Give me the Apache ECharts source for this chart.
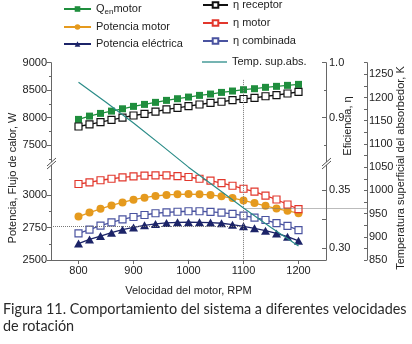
<!DOCTYPE html>
<html>
<head>
<meta charset="utf-8">
<script src="https://cdn.jsdelivr.net/npm/echarts@6/dist/echarts.min.js"></script>
<style>
html, body { margin: 0; padding: 0; background: #fff; }
#chart { width: 412px; height: 344px; }
</style>
</head>
<body>
<div id="chart"></div>
<script>
// datos
var rpm = [800, 820, 840, 860, 880, 900, 920, 940, 960, 980, 1000, 1020, 1040, 1060, 1080, 1100, 1120, 1140, 1160, 1180, 1200];
var qMotor = [7969, 8029, 8078, 8120, 8162, 8206, 8242, 8279, 8315, 8345, 8375, 8406, 8430, 8460, 8485, 8509, 8527, 8552, 8570, 8588, 8606];
var etaReceptor = [0.884, 0.888, 0.892, 0.896, 0.900, 0.904, 0.907, 0.911, 0.915, 0.918, 0.921, 0.924, 0.927, 0.929, 0.932, 0.934, 0.936, 0.939, 0.941, 0.944, 0.947];
var potMotor = [2836, 2867, 2896, 2922, 2945, 2966, 2982, 2995, 3003, 3008, 3010, 3008, 3003, 2992, 2979, 2961, 2940, 2919, 2898, 2880, 2862];
var potElec = [2627, 2659, 2685, 2711, 2734, 2752, 2768, 2779, 2787, 2791, 2792, 2791, 2789, 2784, 2773, 2760, 2745, 2727, 2705, 2680, 2648];
var etaMotor = [0.3552, 0.3566, 0.3584, 0.3597, 0.3609, 0.3618, 0.3623, 0.3626, 0.3626, 0.3620, 0.3612, 0.3597, 0.3580, 0.3560, 0.3537, 0.3511, 0.3486, 0.3453, 0.3419, 0.3376, 0.3337];
var etaComb = [0.3129, 0.3160, 0.3194, 0.3223, 0.3249, 0.3269, 0.3286, 0.3301, 0.3309, 0.3314, 0.3318, 0.3318, 0.3312, 0.3306, 0.3295, 0.3280, 0.3263, 0.3243, 0.3217, 0.3192, 0.3157];
var rpmTemp = [800, 850, 900, 950, 1000, 1050, 1100, 1150, 1200];
var tempAbs = [1233, 1190, 1145, 1098, 1050, 1006, 962, 920, 880];

var xTicks = [800, 900, 1000, 1100, 1200];
var qTicks = [7500, 8000, 8500, 9000];
var potTicks = [2500, 2750, 3000];
var etaHiTicks = [0.9, 1.0];
var etaLoTicks = [0.30, 0.35];
var tempTicks = [850, 900, 950, 1000, 1050, 1100, 1150, 1200, 1250];
var tempMinor = [850, 875, 900, 925, 950, 975, 1000, 1025, 1050, 1075, 1100, 1125, 1150, 1175, 1200, 1225, 1250, 1275];

function pairs(xs, ys) {
    var out = [];
    for (var i = 0; i < xs.length; i++) {
        out.push([xs[i], ys[i]]);
    }
    return out;
}
function plain(v) { return String(v); }

var axisColor = '#666';
var font = 'Liberation Sans, Arial, sans-serif';
var lbl = { color: '#222', fontSize: 11, fontFamily: font };

var chart = echarts.init(document.getElementById('chart'), null, { renderer: 'canvas' });

var option = {
    animation: false,
    title: {
        text: 'Figura 11. Comportamiento del sistema a diferentes velocidades\nde rotación',
        left: 3,
        top: 301,
        padding: 0,
        textStyle: { fontFamily: 'Lato', fontSize: 14.4, fontWeight: 'normal', color: '#2a2a2a', lineHeight: 17 }
    },
    legend: [
        {
            data: ['Qenmotor', 'Potencia motor', 'Potencia eléctrica'],
            orient: 'vertical', left: 63, top: 3, padding: 0,
            itemWidth: 27, itemHeight: 7, itemGap: 5,
            formatter: function (name) {
                if (name === 'Qenmotor') return '{a|Q}{b|en}{a|motor}';
                return name;
            },
            textStyle: {
                color: '#222', fontSize: 11, fontFamily: font, lineHeight: 12,
                rich: {
                    a: { fontSize: 11, fontFamily: font, color: '#222' },
                    b: { fontSize: 8, fontFamily: font, color: '#222', padding: [6, 0, 0, 0] }
                }
            }
        },
        {
            data: ['η receptor', 'η motor', 'η combinada'],
            orient: 'vertical', left: 202, top: -1, padding: 0,
            itemWidth: 25, itemHeight: 7, itemGap: 6,
            textStyle: { color: '#222', fontSize: 11, fontFamily: font, lineHeight: 12 }
        },
        {
            data: [{ name: 'Temp. sup.abs.', icon: 'rect' }],
            orient: 'vertical', left: 202, top: 56, padding: 0,
            itemWidth: 25, itemHeight: 1.3,
            textStyle: { color: '#222', fontSize: 11, fontFamily: font, lineHeight: 12 }
        }
    ],
    grid: [
        { left: 51, right: 86, top: 62.7, height: 110, outerBoundsMode: 'none' },
        { left: 51, right: 86, top: 163, height: 97, outerBoundsMode: 'none' },
        { left: 51, right: 45, top: 62.7, height: 197.3, outerBoundsMode: 'none' },
        { left: 51, right: 86, top: 96, height: 164, outerBoundsMode: 'none' },
        { left: 51, right: 86, top: 62.7, height: 126.6, outerBoundsMode: 'none' },
        { left: 51, right: 45, top: 76, height: 184, outerBoundsMode: 'none' }
    ],
    xAxis: [
        { gridIndex: 0, type: 'value', min: 750, max: 1250, show: false },
        {
            gridIndex: 1, type: 'value', min: 750, max: 1250,
            name: 'Velocidad del motor, RPM', nameLocation: 'middle', nameGap: 25,
            nameTextStyle: lbl,
            axisLine: { lineStyle: { color: axisColor } },
            axisTick: { customValues: xTicks, length: 4, lineStyle: { color: axisColor } },
            minorTick: { show: false },
            axisLabel: { customValues: xTicks, margin: 5, color: '#222', fontSize: 11, fontFamily: font, formatter: plain },
            splitLine: { show: false }
        },
        { gridIndex: 2, type: 'value', min: 750, max: 1324.5, show: false },
        { gridIndex: 3, type: 'value', min: 0, max: 1, show: false },
        { gridIndex: 4, type: 'value', min: 0, max: 1, show: false },
        { gridIndex: 5, type: 'value', min: 0, max: 1, show: false }
    ],
    yAxis: [
        {
            gridIndex: 0, type: 'value', position: 'left', min: 7000, max: 9000, interval: 500,
            axisLine: { show: true, lineStyle: { color: axisColor } },
            axisTick: { show: true, customValues: qTicks, length: 4, lineStyle: { color: axisColor } },
            minorTick: { show: true, splitNumber: 2, length: 2, lineStyle: { color: axisColor } },
            axisLabel: { customValues: qTicks, margin: 4, color: '#222', fontSize: 11, fontFamily: font, formatter: plain },
            splitLine: { show: false }
        },
        {
            gridIndex: 0, type: 'value', position: 'right', min: 0.8, max: 1.0, interval: 0.1,
            axisLine: { show: true, lineStyle: { color: axisColor } },
            axisTick: { show: true, inside: true, customValues: etaHiTicks, length: 4, lineStyle: { color: axisColor } },
            minorTick: { show: true, splitNumber: 2, length: 2, lineStyle: { color: axisColor } },
            axisLabel: {
                customValues: etaHiTicks, margin: 3, color: '#222', fontSize: 11, fontFamily: font,
                formatter: function (v) { return v.toFixed(1); }
            },
            splitLine: { show: false }
        },
        {
            gridIndex: 1, type: 'value', position: 'left', min: 2500, max: 3250, interval: 250,
            axisLine: { show: true, lineStyle: { color: axisColor } },
            axisTick: { show: true, customValues: potTicks, length: 4, lineStyle: { color: axisColor } },
            minorTick: { show: true, splitNumber: 2, length: 2, lineStyle: { color: axisColor } },
            axisLabel: { customValues: potTicks, margin: 4, color: '#222', fontSize: 11, fontFamily: font, formatter: plain },
            splitLine: { show: false }
        },
        {
            gridIndex: 1, type: 'value', position: 'right', min: 0.29, max: 0.3732,
            axisLine: { show: true, lineStyle: { color: axisColor } },
            axisTick: { show: true, inside: true, customValues: [0.30, 0.325, 0.35], length: 4, lineStyle: { color: axisColor } },
            axisLabel: {
                customValues: etaLoTicks, margin: 3, color: '#222', fontSize: 11, fontFamily: font,
                formatter: function (v) { return v.toFixed(2); }
            },
            splitLine: { show: false }
        },
        {
            gridIndex: 2, type: 'value', position: 'right', min: 850, max: 1275,
            axisLine: { show: true, lineStyle: { color: axisColor } },
            axisTick: { show: true, inside: true, customValues: tempMinor, length: 3, lineStyle: { color: axisColor } },
            axisLabel: { customValues: tempTicks, margin: 2, color: '#222', fontSize: 11, fontFamily: font, formatter: plain },
            splitLine: { show: false }
        },
        {
            gridIndex: 3, type: 'value', position: 'left', min: 0, max: 1,
            name: 'Potencia, Flujo de calor, W', nameLocation: 'middle', nameGap: 33, nameTextStyle: lbl,
            axisLine: { show: false }, axisTick: { show: false }, axisLabel: { show: false }, splitLine: { show: false }
        },
        {
            gridIndex: 4, type: 'value', position: 'right', min: 0, max: 1,
            name: 'Eficiencia, η', nameLocation: 'middle', nameGap: 16, nameTextStyle: lbl,
            axisLine: { show: false }, axisTick: { show: false }, axisLabel: { show: false }, splitLine: { show: false }
        },
        {
            gridIndex: 5, type: 'value', position: 'right', min: 0, max: 1,
            name: 'Temperatura superficial del absorbedor, K', nameLocation: 'middle', nameGap: 28, nameTextStyle: lbl,
            axisLine: { show: false }, axisTick: { show: false }, axisLabel: { show: false }, splitLine: { show: false }
        }
    ],
    series: [
        {
            name: 'Qenmotor', type: 'line', xAxisIndex: 0, yAxisIndex: 0,
            data: pairs(rpm, qMotor),
            symbol: 'rect', symbolSize: 7,
            itemStyle: { color: '#1f8e3d' },
            lineStyle: { color: '#1f8e3d', width: 1.3 }
        },
        {
            name: 'η receptor', type: 'line', xAxisIndex: 0, yAxisIndex: 1,
            data: pairs(rpm, etaReceptor),
            symbol: 'rect', symbolSize: 7,
            itemStyle: { color: '#fff', borderColor: '#111', borderWidth: 1.2 },
            lineStyle: { color: '#111', width: 1.3 }
        },
        {
            name: 'Potencia motor', type: 'line', xAxisIndex: 1, yAxisIndex: 2,
            data: pairs(rpm, potMotor),
            symbol: 'circle', symbolSize: 8,
            itemStyle: { color: '#e59a1e' },
            lineStyle: { color: '#e59a1e', width: 1.3 }
        },
        {
            name: 'Potencia eléctrica', type: 'line', xAxisIndex: 1, yAxisIndex: 2,
            data: pairs(rpm, potElec),
            symbol: 'triangle', symbolSize: [9, 8],
            itemStyle: { color: '#1c2468' },
            lineStyle: { color: '#1c2468', width: 1.3 },
            markLine: {
                silent: true, symbol: 'none', label: { show: false },
                lineStyle: { type: 'dotted', color: '#777', width: 1 },
                data: [[{ coord: [750, 2760] }, { coord: [1100, 2760] }]]
            }
        },
        {
            name: 'η motor', type: 'line', xAxisIndex: 1, yAxisIndex: 3,
            data: pairs(rpm, etaMotor),
            symbol: 'rect', symbolSize: 7,
            itemStyle: { color: '#fff', borderColor: '#e2372c', borderWidth: 1.2 },
            lineStyle: { color: '#e2372c', width: 1.3 }
        },
        {
            name: 'η combinada', type: 'line', xAxisIndex: 1, yAxisIndex: 3,
            data: pairs(rpm, etaComb),
            symbol: 'rect', symbolSize: 7,
            itemStyle: { color: '#fff', borderColor: '#4a53a0', borderWidth: 1.2 },
            lineStyle: { color: '#4a53a0', width: 1.3 }
        },
        {
            name: 'Temp. sup.abs.', type: 'line', xAxisIndex: 2, yAxisIndex: 4, z: 5,
            data: pairs(rpmTemp, tempAbs),
            symbol: 'none',
            itemStyle: { color: '#2b8c88' },
            lineStyle: { color: '#2b8c88', width: 1.2 },
            markLine: {
                silent: true, symbol: 'none', label: { show: false },
                lineStyle: { type: 'dotted', color: '#777', width: 1 },
                data: [
                    [{ coord: [1100, 1238] }, { coord: [1100, 850] }],
                    [{ coord: [1100, 961] }, { coord: [1324.5, 961] }]
                ]
            }
        }
    ],
    graphic: [
        // marcas de corte en los ejes
        { type: 'polygon', shape: { points: [[47, 166], [56, 158], [56, 161], [47, 169]] }, style: { fill: '#fff' }, z: 100 },
        { type: 'line', shape: { x1: 47, y1: 166, x2: 56, y2: 158 }, style: { stroke: '#555', lineWidth: 1 }, z: 101 },
        { type: 'line', shape: { x1: 47, y1: 169, x2: 56, y2: 161 }, style: { stroke: '#555', lineWidth: 1 }, z: 101 },
        { type: 'polygon', shape: { points: [[322, 166], [331, 158], [331, 161], [322, 169]] }, style: { fill: '#fff' }, z: 100 },
        { type: 'line', shape: { x1: 322, y1: 166, x2: 331, y2: 158 }, style: { stroke: '#555', lineWidth: 1 }, z: 101 },
        { type: 'line', shape: { x1: 322, y1: 169, x2: 331, y2: 161 }, style: { stroke: '#555', lineWidth: 1 }, z: 101 }
    ]
};
chart.setOption(option);
</script>
</body>
</html>
